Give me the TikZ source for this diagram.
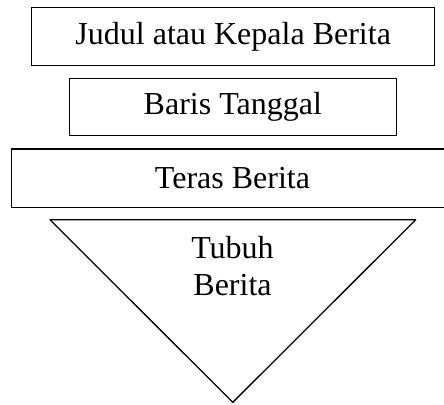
\documentclass[tikz,border=0pt]{standalone}
\usepackage{fontspec}
\setmainfont{Liberation Serif}
\begin{document}
\begin{tikzpicture}[x=1pt,y=-1pt,
  every node/.style={font=\fontsize{32}{37}\selectfont},
  boxstyle/.style={draw,line width=1.3pt,rectangle,inner sep=0pt}]
\useasboundingbox (0,0) rectangle (444,404);
\begin{scope}
\clip (0,0) rectangle (444,404);
\node[boxstyle,minimum width=403pt,minimum height=58pt] (judul) at (233.2,36.7) {Judul atau Kepala Berita};
\node[boxstyle,minimum width=327pt,minimum height=57.4pt] (baris) at (232.8,107) {Baris Tanggal};
\node[boxstyle,minimum width=441.6pt,minimum height=58.3pt] (teras) at (232.5,178.2) {Teras Berita};
\coordinate (tl) at (50,219.8);
\coordinate (tr) at (415.7,219.8);
\coordinate (tb) at (232.8,402.3);
\draw[line width=1.3pt,line join=round] (tl) -- (tr) -- (tb) -- cycle;
\node[align=center,inner sep=0pt] (tubuh) at (232.5,266) {Tubuh\\Berita};
\end{scope}
\end{tikzpicture}
\end{document}
